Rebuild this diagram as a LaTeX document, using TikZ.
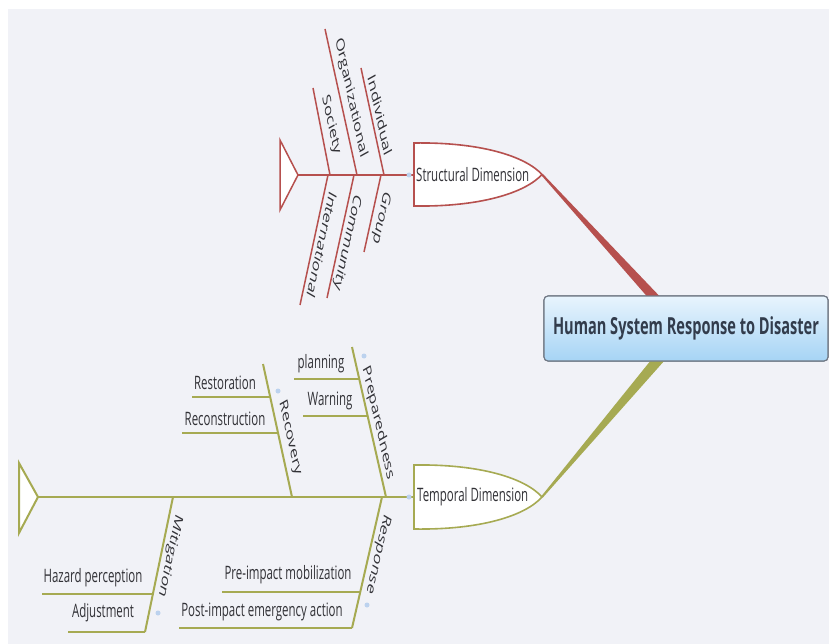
\documentclass[tikz,border=0pt]{standalone}
\usepackage{fontspec}
\setmainfont{Open Sans}
\usepackage{graphicx}

\definecolor{bgc}{RGB}{241,242,247}
\definecolor{rbone}{RGB}{182,80,78}
\definecolor{obone}{RGB}{166,170,82}
\definecolor{dotc}{RGB}{188,210,238}
\definecolor{txt}{RGB}{50,50,55}
\definecolor{titletxt}{RGB}{50,60,76}
\definecolor{boxtop}{RGB}{232,244,253}
\definecolor{boxbot}{RGB}{166,212,245}
\definecolor{boxline}{RGB}{112,120,132}

% narrow set of the labels
\newcommand\sqz[1]{\scalebox{0.62}[1]{#1}}
\newcommand\sqrot[2]{\scalebox{0.62}[1]{\rotatebox{#1}{#2}}}

\tikzset{
  lbl/.style={inner sep=0pt, text=txt, font=\fontsize{18.5}{20}\selectfont},
  rootbox/.style={draw=boxline, line width=1.1pt, rounded corners=4pt,
    top color=boxtop, bottom color=boxbot, minimum width=284pt,
    minimum height=65pt, inner sep=0pt, text=titletxt,
    font=\fontsize{23.5}{26}\selectfont\bfseries},
  knob/.style={circle, fill=dotc, inner sep=0pt, minimum size=5pt},
  rline/.style={draw=rbone, line width=1.5pt},
  oline/.style={draw=obone, line width=2pt},
}

\begin{document}
\begin{tikzpicture}[x=1pt,y=-1pt]
\useasboundingbox (0,0) rectangle (829,644);
\fill[white] (0,0) rectangle (829,644);
\fill[bgc] (8,9) rectangle (829,644);

% ---------- central topic ----------
\node[rootbox] (root) at (686,328.5) {};
\coordinate (stip) at (542,174.5);
\coordinate (ttip) at (542,497);

% tapered branches (drawn under the box)
\fill[rbone] (542.7,173.8) -- (541.3,175.2)
  -- ([xshift=106.2pt,yshift=-4pt]root.north west)
  -- ([xshift=119.2pt,yshift=-4pt]root.north west) -- cycle;
\fill[obone] (541.2,496.4) -- (542.8,497.6)
  -- ([xshift=122.8pt,yshift=3pt]root.south west)
  -- ([xshift=108.8pt,yshift=3pt]root.south west) -- cycle;
\node[rootbox] (root) at (686,328.5) {\sqz{Human System Response to Disaster}};

% ---------- structural dimension ----------
\draw[rline, line width=1.6pt, fill=white] (414,143) -- (414,206)
  .. controls (480,207) and (525,193) .. (stip)
  .. controls (525,156) and (480,142) .. (414,143) -- cycle;
\node[lbl, anchor=west] (sdim) at (416,174.5) {\sqz{Structural Dimension}};

\coordinate (stail) at (298,175);
\draw[rline, fill=white] (280,140) -- (stail) -- (280,210) -- cycle;
\draw[rline] (stail) -- (414,175);
\node[knob] (sknob) at (409,175) {};

\coordinate (b1) at (330,175); \coordinate (e1) at (313,88);
\coordinate (b2) at (357,175); \coordinate (e2) at (325,29);
\coordinate (b3) at (384,175); \coordinate (e3) at (361,68);
\coordinate (b4) at (328,175); \coordinate (e4) at (300,305);
\coordinate (b5) at (354,175); \coordinate (e5) at (327,298);
\coordinate (b6) at (381,175); \coordinate (e6) at (364,252);
\foreach \i in {1,...,6} { \draw[rline] (b\i) -- (e\i); }

\node[lbl] (society) at (331,125) {\sqrot{-71}{Society}};
\node[lbl] (organizational) at (351,98) {\sqrot{-71}{Organizational}};
\node[lbl] (individual) at (380,115) {\sqrot{-71}{Individual}};
\node[lbl] (international) at (322,245) {\sqrot{-109.5}{International}};
\node[lbl] (community) at (347,242) {\sqrot{-109.5}{Community}};
\node[lbl] (group) at (381,218) {\sqrot{-109.5}{Group}};

% ---------- temporal dimension ----------
\draw[oline, line width=1.6pt, fill=white] (414,465) -- (414,529)
  .. controls (480,530) and (525,516) .. (ttip)
  .. controls (525,478) and (480,464) .. (414,465) -- cycle;
\node[lbl, anchor=west] (tdim) at (417,497) {\sqz{Temporal Dimension}};

\coordinate (ttail) at (38,497);
\draw[oline, fill=white] (19,463) -- (ttail) -- (19,533) -- cycle;
\draw[oline] (ttail) -- (414,497);
\node[knob] (tknob) at (409,497) {};

% main bones
\coordinate (rcb) at (292,497); \coordinate (rce) at (263,364);
\coordinate (prb) at (386,497); \coordinate (pre) at (352,347);
\coordinate (mib) at (173,497); \coordinate (mie) at (145,632);
\coordinate (rsb) at (382,497); \coordinate (rse) at (352,628);
\draw[oline] (rcb) -- (rce);
\draw[oline] (prb) -- (pre);
\draw[oline] (mib) -- (mie);
\draw[oline] (rsb) -- (rse);

\node[lbl] (recovery) at (290,438) {\sqrot{-70.6}{Recovery}};
\node[lbl] (preparedness) at (378,423) {\sqrot{-70}{Preparedness}};
\node[lbl] (mitigation) at (170,556) {\sqrot{-108.5}{Mitigation}};
\node[lbl] (response) at (378,554) {\sqrot{-110}{Response}};

\node[knob] at (278,391) {};
\node[knob] at (364,356) {};
\node[knob] at (158,613) {};
\node[knob] at (367,605) {};

% sub-branches
\draw[oline] (192,397) -- (270,397);
\draw[oline] (182,433) -- (278,433);
\draw[oline] (294,379) -- (359,379);
\draw[oline] (303,416) -- (368,416);
\draw[oline] (42,594) -- (153,594);
\draw[oline] (68,632) -- (mie);
\draw[oline] (222,592) -- (360,592);
\draw[oline] (179,628) -- (rse);

\node[lbl] (restoration) at (225,383) {\sqz{Restoration}};
\node[lbl] (reconstruction) at (225,419) {\sqz{Reconstruction}};
\node[lbl] (planning) at (321,364) {\sqz{planning}};
\node[lbl] (warning) at (330,401) {\sqz{Warning}};
\node[lbl] (hazard) at (93,578) {\sqz{Hazard perception}};
\node[lbl] (adjustment) at (103,613) {\sqz{Adjustment}};
\node[lbl] (preimpact) at (288,575) {\sqz{Pre-impact mobilization}};
\node[lbl] (postimpact) at (262,612) {\sqz{Post-impact emergency action}};
\end{tikzpicture}
\end{document}
